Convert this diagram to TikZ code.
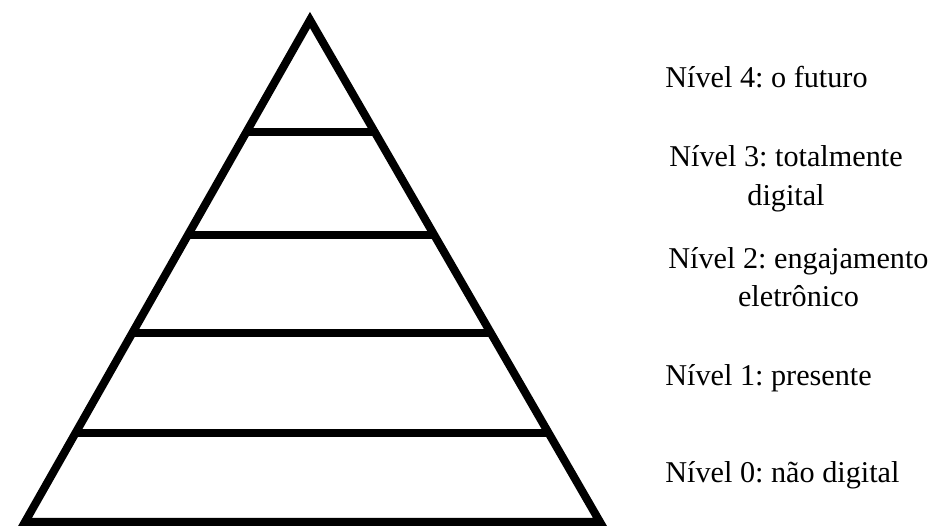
\documentclass[tikz,border=0pt]{standalone}
\usepackage{fontspec}
\setmainfont{Liberation Serif}
\newfontfamily\levelfont{Liberation Serif}
\usetikzlibrary{calc}

\tikzset{
  levelline/.style={line width=4.6pt, black},
  levellabel/.style={anchor=west, align=center, inner sep=0pt,
    font=\levelfont\fontsize{17.2}{22}\selectfont}
}

\begin{document}
\frenchspacing
\begin{tikzpicture}[x=0.02cm, y=-0.02cm]
    % Canvas (keeps the margins of the picture)
    \useasboundingbox (0,0) rectangle (930,526);

    % Pyramid corners
    \coordinate (apex) at (310,20);
    \coordinate (bl) at (25,522);
    \coordinate (br) at (600,522);

    % Outline of the pyramid
    \draw[levelline, line join=miter] (apex) -- (bl) -- (br) -- cycle;

    % Level dividers
    \foreach \t/\n in {0.223/a, 0.428/b, 0.6235/c, 0.8227/d} {
        \coordinate (l\n) at ($(apex)!\t!(bl)$);
        \coordinate (r\n) at ($(apex)!\t!(br)$);
        \draw[levelline] (l\n) -- (r\n);
    }

    % Labels of the levels
    \node[levellabel] (lvfour) at (665,77) {Nível 4: o futuro};
    \node[levellabel] (lvthree) at (669,179) {Nível 3: totalmente\\digital};
    \node[levellabel] (lvtwo) at (668,277) {Nível 2: engajamento\\eletrônico};
    \node[levellabel] (lvone) at (665,378) {Nível 1: presente};
    \node[levellabel] (lvzero) at (665,475) {Nível 0: não digital};
\end{tikzpicture}
\end{document}
